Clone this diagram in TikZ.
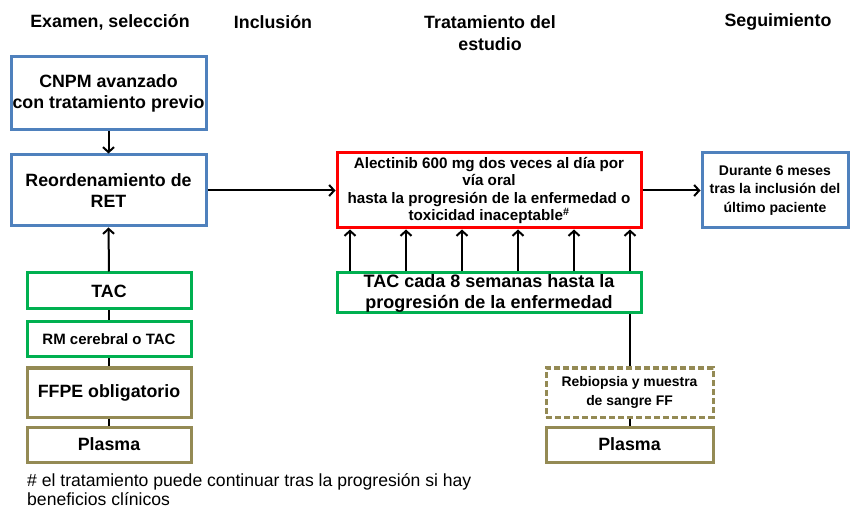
\documentclass[tikz,border=0pt]{standalone}
\usepackage{fontspec}
\setmainfont{Liberation Sans}
\usetikzlibrary{arrows.meta}
\definecolor{bblue}{HTML}{4F81BD}
\definecolor{bgreen}{HTML}{00B050}
\definecolor{bred}{HTML}{FF0000}
\definecolor{bolive}{HTML}{948A54}
\begin{document}
\begin{tikzpicture}[x=1pt,y=-1pt,
  box/.style={draw, line width=3pt, inner sep=0pt, align=center, font=\bfseries},
  bluebox/.style={box, draw=bblue},
  greenbox/.style={box, draw=bgreen},
  redbox/.style={box, draw=bred},
  olivebox/.style={box, draw=bolive},
  dashbox/.style={box, draw=bolive, dashed, dash pattern=on 6pt off 3pt},
  hdr/.style={font=\bfseries\fontsize{17.8}{22}\selectfont, align=center},
  fs17/.style={font=\bfseries\fontsize{17.8}{21}\selectfont},
  arr/.style={line width=2pt, -{Straight Barb[length=5pt,width=11pt,line width=2pt]}},
  conn/.style={line width=2pt}]
\useasboundingbox (0,0) rectangle (851,510);

% headers
\node[hdr] (h1) at (110,22) {Examen, selección};
\node[hdr] (h2) at (273,22) {Inclusión};
\node[hdr] (h3) at (490,33) {Tratamiento del\\estudio};
\node[hdr] (h4) at (778,22) {Seguimiento};

% left column
\node[bluebox, fs17, minimum width=195pt, minimum height=73pt] (cnpm) at (108.5,93.5) {CNPM avanzado\\con tratamiento previo};
\node[bluebox, fs17, minimum width=195pt, minimum height=71pt] (ret) at (108.5,190.5) {Reordenamiento de\\RET};
\node[greenbox, fs17, minimum width=164pt, minimum height=36pt] (tac) at (109,291) {TAC};
\node[greenbox, font=\bfseries\fontsize{15}{18}\selectfont, minimum width=164pt, minimum height=35pt] (rm) at (109,339.5) {RM cerebral o TAC};
\node[olivebox, fs17, minimum width=164pt, minimum height=49pt] (ffpe) at (109,392.5) {FFPE obligatorio};
\node[olivebox, fs17, minimum width=164pt, minimum height=35pt] (plasma1) at (109,444.5) {Plasma};

% treatment
\node[redbox, font=\bfseries\fontsize{15.2}{17.6}\selectfont, minimum width=304pt, minimum height=75pt] (alec) at (489,190.5) {Alectinib 600 mg dos veces al día por\\vía oral\\hasta la progresión de la enfermedad o\\toxicidad inaceptable\textsuperscript{\#}};
\node[greenbox, font=\bfseries\fontsize{18}{21}\selectfont, minimum width=304pt, minimum height=40pt] (tac8) at (489,293) {TAC cada 8 semanas hasta la\\progresión de la enfermedad};
\node[dashbox, font=\bfseries\fontsize{13.9}{18.5}\selectfont, minimum width=167pt, minimum height=49pt] (rebio) at (629.5,392.5) {Rebiopsia y muestra\\de sangre FF};
\node[olivebox, fs17, minimum width=167pt, minimum height=35pt] (plasma2) at (629.5,444.5) {Plasma};

% follow-up
\node[bluebox, font=\bfseries\fontsize{14}{18.5}\selectfont, minimum width=146pt, minimum height=75pt] (dur) at (775,190.5) {Durante 6 meses\\tras la inclusión del\\último paciente};

% connectors
\draw[arr] (cnpm.south) -- (ret.north);
\draw[arr] (tac.north) -- (ret.south);
\draw[conn] (tac.south) -- (rm.north);
\draw[conn] (rm.south) -- (ffpe.north);
\draw[conn] (ffpe.south) -- (plasma1.north);
\draw[arr] (ret.east) -- (alec.west);
\draw[arr] (alec.east) -- (dur.west);
\foreach \x in {350,406,462,518,574,630}
  \draw[arr] (tac8.north -| \x,0) -- (alec.south -| \x,0);
\draw[conn] (tac8.south -| rebio.north) -- (rebio.north);
\draw[conn] (rebio.south) -- (plasma2.north);

% footnote
\node[anchor=north west, align=left, inner sep=0pt, font=\fontsize{17.6}{19.5}\selectfont] (fn) at (27,473) {\# el tratamiento puede continuar tras la progresión si hay\\beneficios clínicos};
\end{tikzpicture}
\end{document}
